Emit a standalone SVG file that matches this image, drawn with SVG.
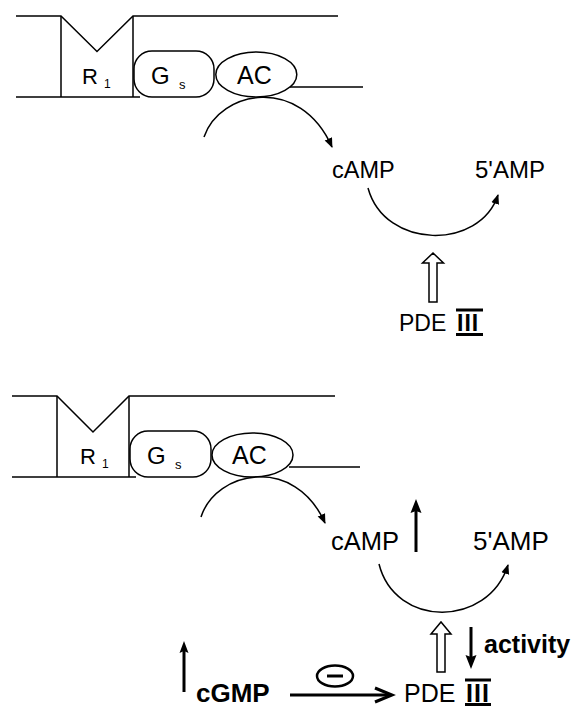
<svg xmlns="http://www.w3.org/2000/svg" width="580" height="708" viewBox="0 0 580 708">
<defs>
<style>
.ln{fill:none;stroke:#000;stroke-width:1.5}
.sh{fill:#fff;stroke:#000;stroke-width:1.5}
.t{font-family:"Liberation Sans",Arial,Helvetica,sans-serif;fill:#000}
.b{font-weight:bold}
.thick{fill:none;stroke:#000;stroke-width:3}
.hd{fill:#000;stroke:none}
</style>
<marker id="ah" markerUnits="userSpaceOnUse" markerWidth="10" markerHeight="10" viewBox="0 0 10 10" refX="9" refY="5" orient="auto">
<path d="M0,1 L10,5 L0,9 Z" fill="#000"/>
</marker>
</defs>
<rect width="580" height="708" fill="#fff"/>

<!-- TOP PANEL -->
<g id="membrane-top">
<path class="ln" d="M16,16 H61 L97,51.5 L133,16 H338"/>
<path class="ln" d="M61,16 V97 M133,16 V97 M16,97 H140 M290,87 H363"/>
</g>
<g id="R1-top">
<text class="t" x="82" y="84" font-size="22">R<tspan x="104" y="88" font-size="12">1</tspan></text>
</g>
<g id="Gs-top">
<rect class="sh" x="134" y="51" width="80" height="46" rx="18" ry="18"/>
<text class="t" x="151" y="84" font-size="24">G<tspan x="179" y="89" font-size="13">s</tspan></text>
</g>
<g id="AC-top">
<ellipse class="sh" cx="256.3" cy="74.5" rx="40.5" ry="22.5"/>
<text class="t" x="237" y="83.5" font-size="25">AC</text>
</g>
<g id="cAMP-top"><text class="t" x="332" y="178" font-size="23.5">cAMP</text></g>
<g id="AMP5-top"><text class="t" x="475" y="178" font-size="24">5'AMP</text></g>
<g id="PDE-top">
<text class="t" x="399" y="331" font-size="23">PDE</text>
<text class="t b" x="457" y="331" font-size="23" letter-spacing="1">III</text>
<path class="thick" d="M456,310 H483 M456,334.5 H483" stroke-width="2.5"/>
</g>

<!-- BOTTOM PANEL -->
<g id="membrane-bottom">
<path class="ln" d="M12,396 H57 L93,432 L129,396 H335"/>
<path class="ln" d="M57,396 V477 M129,396 V477 M12,477 H136 M289,467 H360"/>
</g>
<g id="R1-bottom">
<text class="t" x="80" y="464" font-size="22">R<tspan x="102" y="468" font-size="12">1</tspan></text>
</g>
<g id="Gs-bottom">
<rect class="sh" x="130" y="431" width="81" height="46" rx="18" ry="18"/>
<text class="t" x="147" y="464" font-size="24">G<tspan x="175" y="469" font-size="13">s</tspan></text>
</g>
<g id="AC-bottom">
<ellipse class="sh" cx="252.5" cy="455" rx="40.5" ry="22"/>
<text class="t" x="232" y="464" font-size="25">AC</text>
</g>
<g id="cAMP-bottom"><text class="t" x="331" y="550" font-size="25.5">cAMP</text></g>
<g id="AMP5-bottom"><text class="t" x="473" y="550" font-size="26">5'AMP</text></g>
<g id="PDE-bottom">
<text class="t" x="404" y="702" font-size="25">PDE</text>
<text class="t b" x="466" y="702" font-size="25" letter-spacing="1">III</text>
<path class="thick" d="M465,680 H491 M465,704.5 H491" stroke-width="2.5"/>
</g>
<g id="cGMP"><text class="t b" x="196" y="702" font-size="26">cGMP</text></g>
<g id="activity"><text class="t b" x="484" y="653" font-size="25">activity</text></g>
<g id="inhibit">
<ellipse cx="335" cy="676" rx="18" ry="10.5" fill="none" stroke="#000" stroke-width="2.5"/>
<path d="M327,676 H343" stroke="#000" stroke-width="3"/>
</g>

<g id="connectors">
<!-- top -->
<path class="ln" d="M204,137 C220,90 300,75 332,147" marker-end="url(#ah)"/>
<path class="ln" d="M368,188 C385,250 480,250 498,195" marker-end="url(#ah)"/>
<polygon class="sh" points="429,302 429,263 422.5,263 433,253 443.5,263 437,263 437,302"/>
<!-- bottom -->
<path class="ln" d="M201,517 C216,470 295,455 325,523" marker-end="url(#ah)"/>
<path class="ln" d="M379,564 C395,628 488,628 508,565" marker-end="url(#ah)"/>
<polygon class="sh" points="437,672 437,634 431,634 441,622 451,634 445,634 445,672"/>
<!-- cAMP up -->
<path class="thick" d="M416,552 V508"/>
<polygon class="hd" points="416,499 410.5,513 416,511 421.5,513"/>
<!-- activity down -->
<path class="thick" d="M471,627 V660"/>
<polygon class="hd" points="471,669 465.5,655 471,657 476.5,655"/>
<!-- cGMP up -->
<path class="thick" stroke-width="2.5" d="M184,692 V650"/>
<polygon class="hd" points="184,641 179.5,653 184,651 188.5,653"/>
<!-- cGMP -> PDE -->
<path class="thick" d="M290,695 H390"/>
<polyline class="thick" points="375,688 392,695 375,702"/>
</g>
</svg>
